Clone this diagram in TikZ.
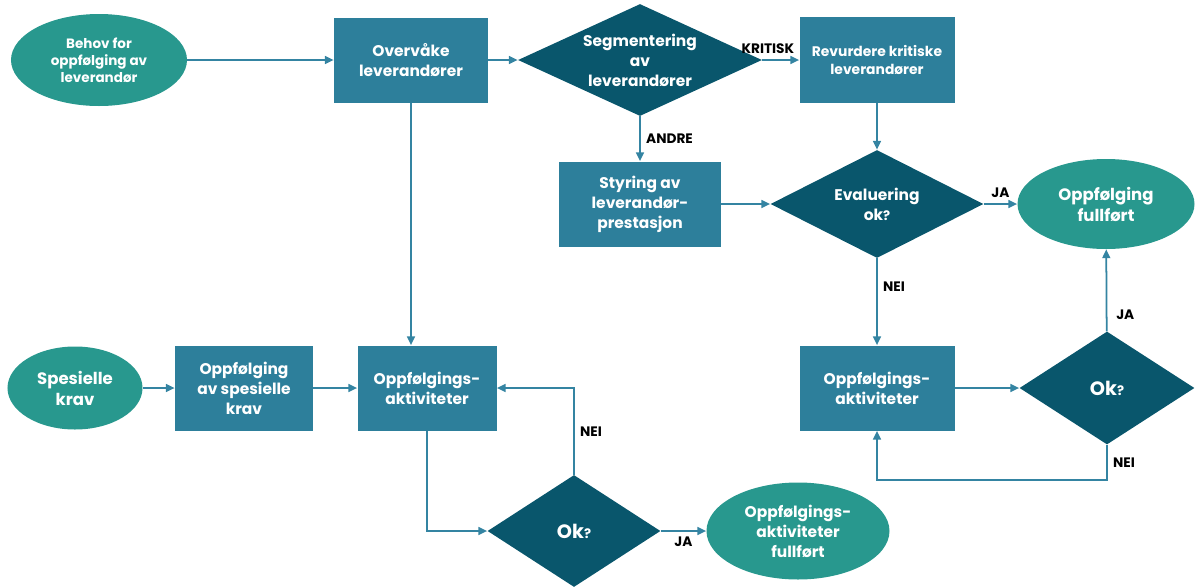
\documentclass[tikz,border=0pt]{standalone}
\usepackage{fontspec}
\setmainfont{Poppins}
\usepackage{xcolor}
\definecolor{termteal}{RGB}{40,152,142}
\definecolor{boxblue}{RGB}{45,127,155}
\definecolor{decdark}{RGB}{9,86,108}
\definecolor{linkblue}{RGB}{52,132,162}
\usepackage{tikz}
\usetikzlibrary{shapes.geometric, arrows.meta, positioning}
\tikzstyle{process}=[rectangle, minimum width=3.1cm, minimum height=1.7cm,
  inner sep=2pt, align=center, fill=boxblue, text=white,
  font=\fontsize{8.8}{11.4}\selectfont\bfseries]
\tikzstyle{decision}=[diamond, inner sep=0pt, align=center, fill=decdark,
  text=white, font=\fontsize{8.8}{11.4}\selectfont\bfseries]
\tikzstyle{terminal}=[ellipse, inner sep=0pt, align=center, fill=termteal,
  text=white, font=\fontsize{8.8}{11.4}\selectfont\bfseries]
\tikzstyle{arrow}=[-{Triangle[length=5pt,width=4.5pt]}, line width=1pt, color=linkblue]
\tikzstyle{answer}=[font=\fontsize{7.8}{9}\selectfont\bfseries, text=black, inner sep=2pt]
\newcommand{\okq}{Ok{\fontsize{7.5}{8}\selectfont ?}}

\begin{document}
\begin{tikzpicture}[on grid, node distance=4cm]
  \useasboundingbox (-1.98,1.2) rectangle (22.08,-10.54);
  % top row
  \node[terminal, minimum width=3.52cm, minimum height=1.84cm,
    font=\fontsize{7.7}{9.8}\selectfont\bfseries] (behov) {Behov for\\oppfølging av\\leverandør};
  \node[process, right=6.24cm of behov, minimum width=3.08cm] (overvake) {Overvåke\\leverandører};
  \node[decision, right=4.58cm of overvake, minimum width=4.88cm, minimum height=2.24cm,
    aspect=2.2] (segment) {Segmentering\\av\\leverandører};
  \node[process, right=4.74cm of segment, minimum height=1.72cm,
    font=\fontsize{7.9}{10}\selectfont\bfseries] (revurdere) {Revurdere kritiske\\leverandører};
  % second row
  \node[process, below=2.88cm of segment, minimum width=3.24cm] (styring) {Styring av\\leverandør-\\prestasjon};
  \node[decision, below=2.88cm of revurdere, minimum width=4.26cm, minimum height=2.16cm,
    aspect=2] (evaluering) {Evaluering\\ok{\fontsize{7.5}{8}\selectfont ?}};
  \node[terminal, right=4.58cm of evaluering, minimum width=3.54cm, minimum height=1.8cm,
    font=\fontsize{9.4}{12}\selectfont\bfseries] (fullfort) {Oppfølging\\fullført};
  % right loop
  \node[process, below=3.68cm of evaluering] (aktright) {Oppfølgings-\\aktiviteter};
  \node[decision, right=4.6cm of aktright, minimum width=3.5cm, minimum height=2.26cm,
    aspect=1.55, font=\fontsize{11}{13}\selectfont\bfseries] (okright) {\okq};
  % left part
  \node[process, below right=6.56cm and 0.32cm of overvake, minimum width=2.78cm] (aktleft) {Oppfølgings-\\aktiviteter};
  \node[process, left=3.66cm of aktleft, minimum width=2.76cm] (speskrav) {Oppfølging\\av spesielle\\krav};
  \node[terminal, left=3.38cm of speskrav, minimum width=2.7cm, minimum height=1.66cm,
    font=\fontsize{9.4}{12}\selectfont\bfseries] (spes) {Spesielle\\krav};
  \node[decision, below right=2.86cm and 2.94cm of aktleft, minimum width=3.46cm,
    minimum height=2.24cm, aspect=1.55, font=\fontsize{11}{13}\selectfont\bfseries] (okleft) {\okq};
  \node[terminal, right=4.48cm of okleft, minimum width=3.66cm, minimum height=1.94cm] (aktfullfort) {Oppfølgings-\\aktiviteter\\fullført};

  \draw[arrow] (behov) -- (overvake);
  \draw[arrow] (overvake) -- (segment);
  \draw[arrow] (segment) -- node[answer, above=1pt, pos=0.15] {KRITISK} (revurdere);
  \draw[arrow] (segment) -- node[answer, right=1pt] {ANDRE} (styring);
  \draw[arrow] (revurdere) -- (evaluering);
  \draw[arrow] (styring) -- (evaluering);
  \draw[arrow] (evaluering) -- node[answer, above=1pt] {JA} (fullfort);
  \draw[arrow] (evaluering) -- node[answer, right=1pt, pos=0.33] {NEI} (aktright);
  \draw[arrow] (aktright) -- (okright);
  \draw[arrow] (okright) -- node[answer, right=3pt, pos=0.2] {JA} (fullfort);
  \draw[arrow] (okright.south) -- node[answer, right=1pt] {NEI} ++(0,-0.7) -| (aktright.south);
  \draw[arrow] (overvake.south) -- (overvake.south |- aktleft.north);
  \draw[arrow] (spes) -- (speskrav);
  \draw[arrow] (speskrav) -- (aktleft);
  \draw[arrow] (aktleft.south) |- (okleft.west);
  \draw[arrow] (okleft.north) |- node[answer, right=1pt, pos=0.25] {NEI} (aktleft.east);
  \draw[arrow] (okleft) -- node[answer, below=1pt] {JA} (aktfullfort);
\end{tikzpicture}
\end{document}
